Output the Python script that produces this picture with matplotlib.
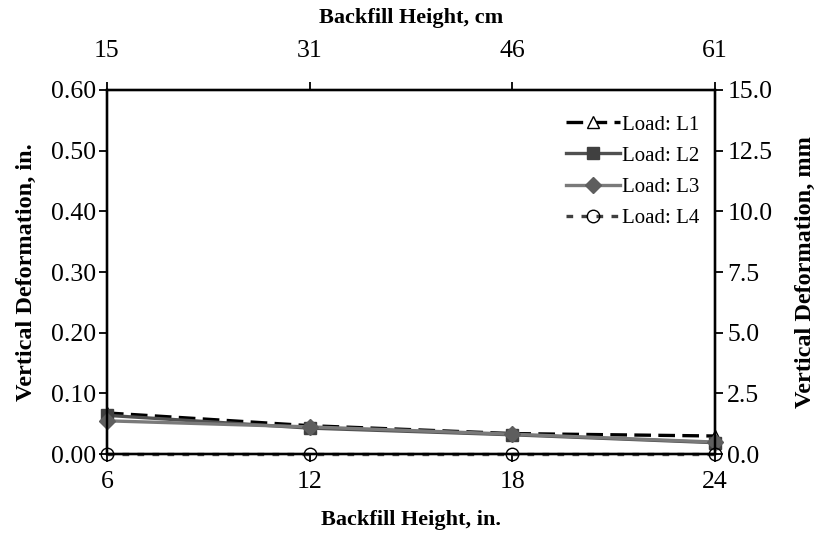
import matplotlib
matplotlib.use("Agg")
import matplotlib.pyplot as plt

# Backfill heights (in.) and their cm labels
heights_in = [6, 12, 18, 24]
heights_cm_labels = ["15", "31", "46", "61"]

# Vertical deformation (in.) per load case
load_l1 = [0.068, 0.047, 0.034, 0.030]
load_l2 = [0.064, 0.043, 0.032, 0.019]
load_l3 = [0.055, 0.045, 0.033, 0.020]
load_l4 = [0.0, 0.0, 0.0, 0.0]

y_ticks_in = [0.0, 0.1, 0.2, 0.3, 0.4, 0.5, 0.6]
y_ticks_mm = [0.0, 2.5, 5.0, 7.5, 10.0, 12.5, 15.0]

plt.rcParams['font.family'] = ['Liberation Serif', 'DejaVu Serif']

fig = plt.figure(figsize=(8.16, 5.35), dpi=100)
ax = fig.add_axes([0.131, 0.151, 0.745, 0.681])

ax.plot(heights_in, load_l1, color='black', lw=2.4, dashes=(5, 2.2),
        marker='^', ms=9, mfc='white', mec='black', mew=1.0, label='Load: L1',
        zorder=3, clip_on=False)
ax.plot(heights_in, load_l2, color='#505050', lw=2.4,
        marker='s', ms=9, mfc='#404040', mec='#404040', label='Load: L2',
        zorder=4, clip_on=False)
ax.plot(heights_in, load_l3, color='#7a7a7a', lw=2.4,
        marker='D', ms=8, mfc='#5e5e5e', mec='#5e5e5e', label='Load: L3',
        zorder=5, clip_on=False)
ax.plot(heights_in, load_l4, color='#404040', lw=2.4, dashes=(2, 2.5),
        marker='o', ms=9, mfc='none', mec='black', mew=1.0, label='Load: L4',
        zorder=6, clip_on=False)

ax.set_xlim(6, 24)
ax.set_ylim(0, 0.6)
ax.set_xticks(heights_in)
ax.set_yticks(y_ticks_in)
ax.set_yticklabels([f"{v:.2f}" for v in y_ticks_in])
ax.tick_params(axis='y', labelsize=18.5, width=1.3, length=6, direction='out', pad=2)
ax.tick_params(axis='x', labelsize=18.5, width=1.3, length=6, direction='out', pad=6)
for s in ax.spines.values():
    s.set_linewidth(1.6)

ax.set_xlabel('Backfill Height, in.', fontsize=16, fontweight='bold', labelpad=12)
ax.set_ylabel('Vertical Deformation, in.', fontsize=17.5, fontweight='bold', labelpad=10)

# top axis in cm
axt = ax.twiny()
axt.set_xlim(ax.get_xlim())
axt.set_xticks(heights_in)
axt.set_xticklabels(heights_cm_labels)
axt.tick_params(axis='x', labelsize=18.5, width=1.3, length=6, direction='out', pad=14)
axt.set_xlabel('Backfill Height, cm', fontsize=16, fontweight='bold', labelpad=12)

# right axis in mm
axr = ax.twinx()
axr.set_ylim(0, 15.0)
axr.set_yticks(y_ticks_mm)
axr.set_yticklabels([f"{v:.1f}" for v in y_ticks_mm])
axr.tick_params(axis='y', labelsize=18.5, width=1.3, length=6, direction='out', pad=3)
axr.set_ylabel('Vertical Deformation, mm', fontsize=17.5, fontweight='bold', labelpad=16)
for a in (axt, axr):
    for s in a.spines.values():
        s.set_linewidth(1.6)

handles, labels = ax.get_legend_handles_labels()
axr.legend(handles, labels, loc='upper right', bbox_to_anchor=(0.995, 0.965),
           frameon=False, fontsize=15, handlelength=2.6, handletextpad=0.1,
           labelspacing=0.55, borderaxespad=0.2)

fig.savefig('out.png', dpi=100)
